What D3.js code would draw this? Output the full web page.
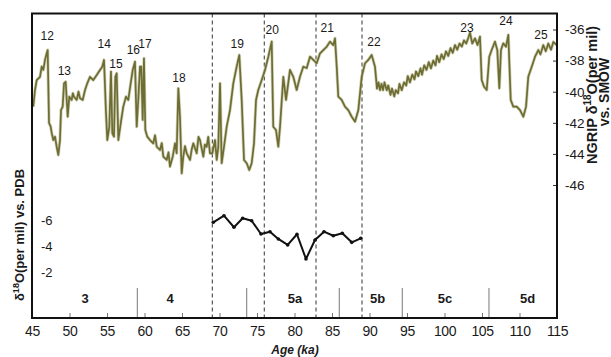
<!DOCTYPE html>
<html>
<head>
<meta charset="utf-8">
<script src="https://cdn.jsdelivr.net/npm/d3@7"></script>
<style>
  body { margin: 0; background: #fff; }
  text { font-family: "Liberation Sans", Arial, sans-serif; fill: #1a1a1a; }
</style>
</head>
<body>
<svg id="chart" width="611" height="357"></svg>
<script>
// NGRIP d18O (per mil vs SMOW)
const ngripAge = [45.17, 45.4, 45.63, 46.07, 46.29, 46.51, 46.73, 46.96, 47.09, 47.27, 47.49, 47.63, 47.84, 48.07, 48.29, 48.51, 48.73, 48.87, 49.09, 49.27, 49.49, 49.63, 49.76, 49.97, 50.29, 50.45, 50.6, 50.96, 51.2, 51.4, 51.76, 52.07, 52.37, 52.73, 53.17, 53.63, 54.07, 54.37, 54.6, 54.87, 55.04, 55.31, 55.53, 55.71, 55.93, 56.11, 56.29, 56.51, 56.83, 57.17, 57.53, 57.84, 58.16, 58.43, 58.73, 58.96, 59.17, 59.4, 59.57, 59.76, 59.93, 60.11, 60.37, 60.73, 61.17, 61.4, 61.63, 62.07, 62.3, 62.51, 62.96, 63.2, 63.4, 63.76, 64.07, 64.29, 64.51, 64.73, 64.96, 65.17, 65.4, 65.63, 66.07, 66.3, 66.51, 66.96, 67.2, 67.4, 67.84, 68.05, 68.29, 68.5, 68.73, 69.04, 69.4, 69.63, 69.84, 70.07, 70.29, 70.6, 70.96, 71.4, 71.84, 72.29, 72.64, 72.96, 73.27, 73.63, 73.97, 74.29, 74.6, 74.87, 75.17, 75.63, 76.07, 76.51, 76.96, 77.17, 77.53, 77.84, 78.07, 78.51, 78.87, 79.4, 79.84, 80.29, 80.73, 81.17, 81.63, 82.07, 82.51, 82.96, 83.4, 83.84, 84.29, 84.73, 85.17, 85.4, 85.63, 85.84, 86.29, 86.73, 87.17, 87.63, 88.07, 88.51, 88.96, 89.4, 89.84, 90.29, 90.73, 91.0, 91.2, 91.4, 91.6, 91.8, 92.0, 92.3, 92.5, 92.8, 93.0, 93.3, 93.5, 93.8, 94.0, 94.3, 94.6, 94.9, 95.1, 95.4, 95.7, 96.0, 96.2, 96.5, 96.8, 97.0, 97.3, 97.6, 97.9, 98.2, 98.5, 98.8, 99.0, 99.3, 99.6, 99.9, 100.2, 100.5, 100.8, 101.1, 101.4, 101.7, 102.0, 102.3, 102.6, 102.9, 103.2, 103.4, 103.7, 104.07, 104.4, 104.73, 104.96, 105.27, 105.63, 105.97, 106.29, 106.73, 107.04, 107.31, 107.53, 107.84, 108.2, 108.51, 108.83, 109.17, 109.63, 110.07, 110.51, 110.87, 111.17, 111.63, 112.07, 112.51, 112.8, 113.17, 113.5, 113.84, 114.2, 114.51, 114.96];
const ngripVal = [-40.96, -39.89, -39.25, -39.04, -38.39, -38.6, -37.96, -37.53, -37.32, -42.01, -42.25, -42.66, -43.11, -42.89, -43.54, -44.07, -43.11, -41.18, -40.96, -39.46, -39.36, -40.53, -41.61, -40.32, -40.53, -40.1, -40.32, -40.53, -40.0, -40.42, -40.53, -39.89, -39.46, -39.04, -39.25, -38.93, -38.6, -38.39, -37.96, -41.39, -43.11, -42.25, -38.71, -42.68, -42.89, -39.04, -38.82, -43.11, -42.03, -40.96, -40.32, -40.53, -39.46, -38.6, -38.07, -42.25, -40.53, -38.39, -38.39, -41.82, -37.85, -42.46, -42.89, -43.11, -43.32, -42.8, -43.54, -43.75, -43.3, -44.18, -44.39, -43.9, -44.82, -44.18, -43.32, -43.96, -39.78, -41.61, -45.25, -44.18, -43.5, -43.96, -44.39, -43.7, -43.32, -43.96, -42.9, -43.11, -44.18, -43.4, -43.54, -42.9, -43.96, -43.96, -43.11, -44.39, -43.54, -39.46, -44.6, -43.54, -42.25, -41.18, -39.46, -38.39, -37.64, -40.53, -44.39, -44.6, -45.04, -44.6, -43.32, -40.53, -39.89, -39.25, -38.6, -37.75, -36.78, -42.25, -42.46, -43.54, -42.25, -39.04, -40.53, -38.6, -39.04, -39.89, -39.04, -38.39, -38.48, -37.75, -37.96, -38.17, -37.53, -37.32, -37.11, -36.78, -37.0, -36.57, -38.39, -40.32, -40.53, -40.96, -41.18, -41.61, -41.93, -41.18, -39.04, -38.17, -37.96, -37.64, -38.39, -39.8, -39.4, -39.9, -39.5, -39.9, -39.4, -39.9, -39.6, -40.2, -39.8, -40.3, -39.9, -40.1, -39.5, -39.9, -39.4, -39.6, -39.0, -39.4, -38.9, -39.2, -38.7, -39.0, -38.5, -38.9, -38.3, -38.6, -38.1, -38.5, -38.0, -38.3, -37.7, -38.1, -37.6, -37.9, -37.4, -37.7, -37.2, -37.5, -37.0, -37.3, -36.9, -37.1, -36.7, -36.9, -36.5, -36.2, -36.9, -36.57, -37.0, -36.46, -39.25, -39.68, -39.89, -37.75, -37.32, -36.78, -37.32, -39.78, -37.32, -36.89, -37.11, -36.35, -40.53, -40.96, -40.96, -41.18, -41.61, -40.96, -39.04, -38.39, -37.75, -37.32, -37.6, -37.0, -37.4, -36.9, -37.3, -36.8, -37.0];

// benthic d18O (per mil vs PDB)
const pdbAge = [69.17, 70.6, 71.93, 73.09, 74.29, 75.53, 76.73, 77.84, 79.09, 80.33, 81.53, 82.73, 83.93, 85.17, 86.37, 87.63, 88.83];
const pdbVal = [-5.86, -6.37, -5.48, -6.17, -5.98, -4.96, -5.14, -4.58, -4.12, -4.94, -3.04, -4.5, -5.14, -4.83, -5.02, -4.32, -4.63];

// interstadial numbers
const isNums = ["12", "13", "14", "15", "16", "17", "18", "19", "20", "21", "22", "23", "24", "25"];
const isAge = [47.04, 49.31, 54.64, 56.2, 58.51, 60.07, 64.6, 72.37, 77.04, 84.37, 90.6, 103.0, 108.2, 112.87];
const isVal = [-36.42, -38.65, -36.89, -38.22, -37.32, -36.89, -39.1, -36.89, -36.03, -35.9, -36.78, -35.92, -35.45, -36.31];

// marine isotope stages
const stageNames = ["3", "4", "5a", "5b", "5c", "5d"];
const stageMid = [52.07, 63.4, 80.07, 91.09, 100.07, 111.09];
const stageBounds = [59.04, 73.63, 85.97, 94.37, 105.93];
const dashedAges = [69.04, 75.97, 82.87, 89.0];

const xTicks = [45, 50, 55, 60, 65, 70, 75, 80, 85, 90, 95, 100, 105, 110, 115];
const ngripTicks = [-36, -38, -40, -42, -44, -46];
const pdbTicks = [-6, -4, -2];

const L = 32, R = 557, T = 13.5, B = 318;
const svg = d3.select('#chart');

const x = d3.scaleLinear().domain([45, 115]).range([L, R]);
const yR = d3.scaleLinear().domain([-36, -46]).range([29.5, 185]);
const yL = d3.scaleLinear().domain([-6, -2]).range([220.5, 272.5]);

svg.append('clipPath').attr('id', 'plot')
  .append('rect').attr('x', L).attr('y', T).attr('width', R - L).attr('height', B - T);

// dashed event lines
svg.append('g').selectAll('line').data(dashedAges).join('line')
  .attr('x1', (d) => x(d)).attr('x2', (d) => x(d))
  .attr('y1', T).attr('y2', B)
  .attr('stroke', '#333').attr('stroke-width', 1).attr('stroke-dasharray', '4,3');

// stage boundaries
svg.append('g').selectAll('line').data(stageBounds).join('line')
  .attr('x1', (d) => x(d)).attr('x2', (d) => x(d))
  .attr('y1', 288).attr('y2', B)
  .attr('stroke', '#777').attr('stroke-width', 1);

svg.append('g').selectAll('text').data(stageNames).join('text')
  .attr('x', (d, i) => x(stageMid[i])).attr('y', 302.5)
  .attr('text-anchor', 'middle').attr('font-size', 13).attr('font-weight', 'bold')
  .text((d) => d);

// NGRIP curve
const ngrip = ngripAge.map((a, i) => [a, ngripVal[i]]);
const line = d3.line().x((d) => x(d[0])).y((d) => yR(d[1]));
const g = svg.append('g').attr('clip-path', 'url(#plot)');
g.append('path').datum(ngrip).attr('d', line)
  .attr('fill', 'none').attr('stroke', '#b4b48a').attr('stroke-width', 3.2).attr('opacity', 0.6)
  .attr('stroke-linejoin', 'round');
g.append('path').datum(ngrip).attr('d', line)
  .attr('fill', 'none').attr('stroke', '#6d6c32').attr('stroke-width', 1.7)
  .attr('stroke-linejoin', 'round');

// PDB curve
const pdb = pdbAge.map((a, i) => [a, pdbVal[i]]);
const lineL = d3.line().x((d) => x(d[0])).y((d) => yL(d[1]));
svg.append('path').datum(pdb).attr('d', lineL)
  .attr('fill', 'none').attr('stroke', '#111').attr('stroke-width', 2)
  .attr('stroke-linejoin', 'round');
svg.append('g').selectAll('circle').data(pdb).join('circle')
  .attr('cx', (d) => x(d[0])).attr('cy', (d) => yL(d[1])).attr('r', 1.8).attr('fill', '#111');

// interstadial labels
svg.append('g').selectAll('text').data(isNums).join('text')
  .attr('x', (d, i) => x(isAge[i])).attr('y', (d, i) => yR(isVal[i]))
  .attr('dy', '0.35em').attr('text-anchor', 'middle').attr('font-size', 12)
  .text((d) => d);

// x axis
const xAxis = svg.append('g').attr('transform', 'translate(0,' + B + ')')
  .call(d3.axisBottom(x).tickValues(xTicks).tickSizeInner(-5).tickSizeOuter(0)
    .tickPadding(8).tickFormat(String));
xAxis.select('.domain').remove();
xAxis.selectAll('line').attr('stroke', '#777');
xAxis.selectAll('text').attr('font-size', 14).attr('letter-spacing', '-0.4px').attr('fill', '#1a1a1a');

svg.append('text').attr('x', 295).attr('y', 354).attr('text-anchor', 'middle')
  .attr('font-size', 12).attr('font-style', 'italic').attr('font-weight', 'bold').attr('fill', '#333')
  .text('Age (ka)');

// right axis
const rAxis = svg.append('g').attr('transform', 'translate(' + R + ',0)')
  .call(d3.axisRight(yR).tickValues(ngripTicks).tickSizeInner(-4).tickSizeOuter(0)
    .tickPadding(8).tickFormat(String));
rAxis.select('.domain').remove();
rAxis.selectAll('line').attr('stroke', '#333');
rAxis.selectAll('text').attr('font-size', 13.5).attr('fill', '#1a1a1a');

// left axis
const lAxis = svg.append('g').attr('transform', 'translate(52.5,0)')
  .call(d3.axisLeft(yL).tickValues(pdbTicks).tickSize(0).tickPadding(0).tickFormat(String));
lAxis.select('.domain').remove();
lAxis.selectAll('text').attr('font-size', 13).attr('fill', '#1a1a1a');

// frame
svg.append('rect').attr('x', L).attr('y', T).attr('width', R - L).attr('height', B - T)
  .attr('fill', 'none').attr('stroke', '#111').attr('stroke-width', 2);

// axis titles
const lt = svg.append('text').attr('transform', 'translate(19,235) rotate(-90)')
  .attr('text-anchor', 'middle').attr('dy', '0.35em')
  .attr('font-size', 13).attr('font-weight', 'bold');
lt.append('tspan').text('δ');
lt.append('tspan').attr('font-size', 9).attr('dy', '-5').text('18');
lt.append('tspan').attr('dy', '5').text('O(per mil) vs. PDB');

const rt = svg.append('text').attr('transform', 'translate(592,95) rotate(-90)')
  .attr('text-anchor', 'middle').attr('dy', '0.35em')
  .attr('font-size', 14.5).attr('font-weight', 'bold');
rt.append('tspan').text('NGRIP δ');
rt.append('tspan').attr('font-size', 10).attr('dy', '-6').text('18');
rt.append('tspan').attr('dy', '6').text('O(per mil)');

svg.append('text').attr('transform', 'translate(604.5,92) rotate(-90)')
  .attr('text-anchor', 'middle').attr('dy', '0.35em')
  .attr('font-size', 14).attr('font-weight', 'bold')
  .text('vs. SMOW');
</script>
</body>
</html>
